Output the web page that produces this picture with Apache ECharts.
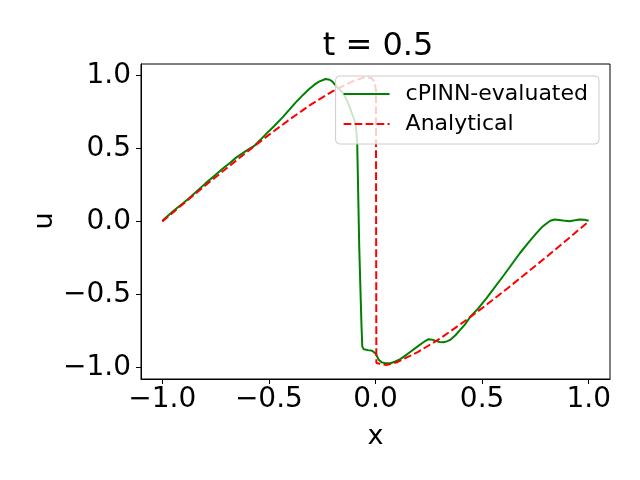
<!DOCTYPE html>
<html>
<head>
<meta charset="utf-8">
<script src="https://cdn.jsdelivr.net/npm/echarts@6.0.0/dist/echarts.min.js"></script>
<style>
  html, body { margin: 0; padding: 0; background: #fff; }
  #chart { width: 640px; height: 480px; }
</style>
</head>
<body>
<div id="chart"></div>
<script>
// cPINN prediction
const predX = [-1.0, -0.95, -0.9, -0.872, -0.8, -0.75, -0.716, -0.68, -0.654, -0.607, -0.569, -0.54, -0.514,
  -0.475, -0.436, -0.405, -0.374, -0.34, -0.311, -0.285, -0.265, -0.234, -0.215, -0.202, -0.179, -0.165,
  -0.148, -0.125, -0.101, -0.093, -0.0885, -0.0855, -0.076, -0.066, -0.062, -0.055, -0.035, -0.016, 0.0,
  0.016, 0.03, 0.047, 0.07, 0.09, 0.109, 0.135, 0.164, 0.19, 0.218, 0.235, 0.249, 0.265, 0.28, 0.3, 0.319,
  0.335, 0.35, 0.375, 0.397, 0.42, 0.444, 0.483, 0.522, 0.6, 0.678, 0.72, 0.756, 0.78, 0.802, 0.82, 0.841,
  0.86, 0.88, 0.911, 0.935, 0.958, 0.98, 1.0];
const predU = [0.005, 0.07, 0.128, 0.163, 0.258, 0.32, 0.363, 0.405, 0.438, 0.484, 0.518, 0.56, 0.599,
  0.655, 0.714, 0.765, 0.817, 0.868, 0.908, 0.94, 0.959, 0.977, 0.972, 0.959, 0.92, 0.9,
  0.874, 0.8, 0.702, 0.667, 0.6, 0.518, -0.193, -0.7, -0.858, -0.876, -0.882, -0.886, -0.904,
  -0.95, -0.966, -0.972, -0.972, -0.962, -0.95, -0.925, -0.893, -0.865, -0.835, -0.818, -0.807, -0.81, -0.817, -0.826, -0.828,
  -0.822, -0.812, -0.78, -0.743, -0.705, -0.655, -0.594, -0.524, -0.372, -0.216, -0.14, -0.078, -0.04, -0.014, 0.005, 0.014,
  0.011, 0.007, 0.002, 0.008, 0.014, 0.012, 0.005];

// analytical solution
const exactX = [-1.0, -0.9, -0.8, -0.7, -0.6, -0.5, -0.4, -0.3, -0.2, -0.1, -0.05, -0.02, -0.005, 0.002,
  0.004, 0.02, 0.05, 0.1, 0.2, 0.3, 0.4, 0.5, 0.6, 0.7, 0.8, 0.9, 1.0];
const exactU = [0.0, 0.123, 0.245, 0.363, 0.481, 0.594, 0.703, 0.805, 0.894, 0.966, 0.99, 0.984, 0.96, 0.9,
  -0.97, -0.975, -0.985, -0.966, -0.894, -0.805, -0.703, -0.594, -0.481, -0.363, -0.245, -0.123, 0.0];

const tickVals = [-1.0, -0.5, 0.0, 0.5, 1.0];

const zip = (xs, ys) => xs.map((x, i) => [x, ys[i]]);
const fmt = v => v.toFixed(1).replace('-', '\u2212');
const font = 'DejaVu Sans';

const chart = echarts.init(document.getElementById('chart'));

const axisCommon = {
  type: 'value',
  axisLine: { show: true, onZero: false, lineStyle: { color: '#000', width: 1 } },
  axisTick: { show: true, length: 5, lineStyle: { color: '#000', width: 1 }, customValues: tickVals },
  splitLine: { show: false },
  nameTextStyle: { fontFamily: font, fontSize: 27, color: '#000' },
  nameLocation: 'middle'
};

chart.setOption({
  animation: false,
  backgroundColor: '#fff',
  title: {
    text: 't = 0.5',
    left: 373,
    textAlign: 'center',
    top: 26,
    textStyle: { fontFamily: font, fontSize: 32, fontWeight: 'normal', color: '#000' }
  },
  grid: {
    left: 141, right: 30, top: 64, bottom: 101,
    show: true, borderColor: '#000', borderWidth: 1, backgroundColor: 'transparent',
    outerBoundsMode: 'none'
  },
  xAxis: Object.assign({}, axisCommon, {
    min: -1.1, max: 1.1,
    name: 'x',
    nameGap: 44,
    axisLabel: { customValues: tickVals, formatter: fmt, margin: 7, fontFamily: font, fontSize: 28, color: '#000' }
  }),
  yAxis: Object.assign({}, axisCommon, {
    min: -1.08, max: 1.08,
    axisLabel: { customValues: tickVals, formatter: fmt, margin: 10, fontFamily: font, fontSize: 28, color: '#000' }
  }),
  // y axis label, placed like matplotlib's rotated ylabel
  graphic: [{
    type: 'text',
    x: 45, y: 221,
    rotation: Math.PI / 2,
    style: { text: 'u', fontFamily: font, fontSize: 27, fill: '#000', align: 'center', verticalAlign: 'middle' }
  }],
  legend: {
    orient: 'vertical',
    right: 41,
    top: 76,
    padding: [7, 11, 9, 7],
    itemGap: 8,
    itemWidth: 46,
    itemHeight: 14,
    backgroundColor: 'rgba(255,255,255,0.8)',
    borderColor: '#cccccc',
    borderWidth: 1,
    borderRadius: 4,
    itemStyle: { opacity: 0 },
    textStyle: { fontFamily: font, fontSize: 22, color: '#000', padding: [0, 0, 0, 11] },
    data: ['cPINN-evaluated', 'Analytical']
  },
  series: [
    {
      name: 'cPINN-evaluated',
      type: 'line',
      data: zip(predX, predU),
      symbol: 'none',
      lineStyle: { color: '#008000', width: 2 },
      itemStyle: { color: '#008000' }
    },
    {
      name: 'Analytical',
      type: 'line',
      data: zip(exactX, exactU),
      symbol: 'none',
      lineStyle: { color: '#ff0000', width: 2, type: [7.7, 3.3] },
      itemStyle: { color: '#ff0000' }
    }
  ]
});
</script>
</body>
</html>
